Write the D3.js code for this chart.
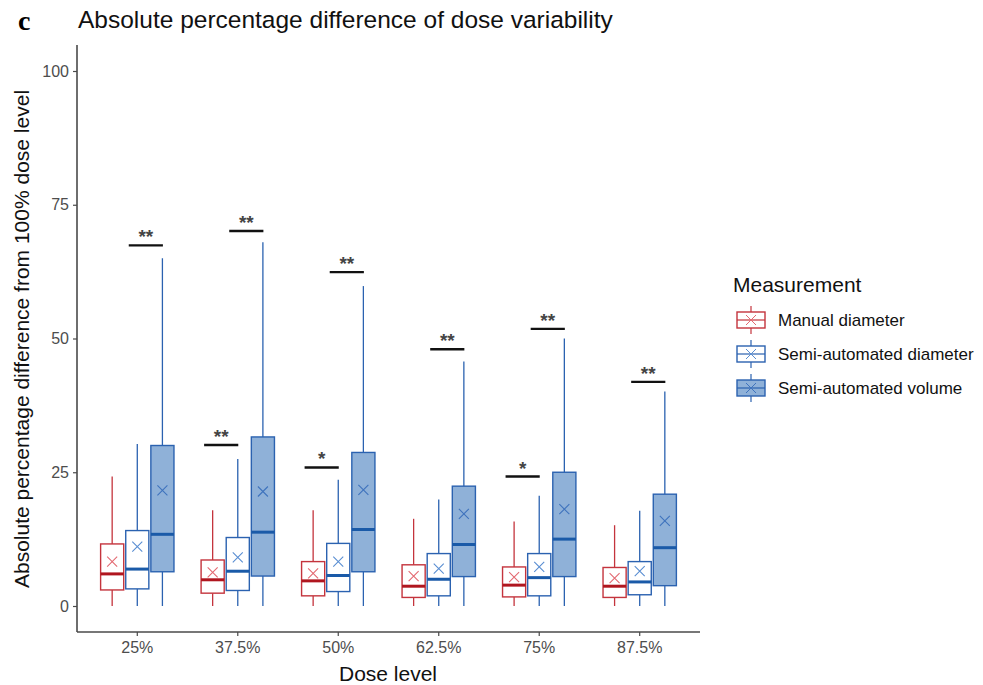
<!DOCTYPE html>
<html>
<head>
<meta charset="utf-8">
<script src="https://cdn.jsdelivr.net/npm/d3@7"></script>
<style>
  body { margin: 0; background: #fff; }
  text { font-family: "Liberation Sans", Arial, sans-serif; }
</style>
</head>
<body>
<svg id="chart" width="983" height="685"></svg>
<script>
// dose levels on the x axis
var doseLevels = ["25%", "37.5%", "50%", "62.5%", "75%", "87.5%"];
var measurements = ["Manual diameter", "Semi-automated diameter", "Semi-automated volume"];
var yTicks = [0, 25, 50, 75, 100];

// box stats per measurement, one entry per dose level: [min, q1, median, q3, max, mean]
var manualDiameter = [
  [0, 3.0, 6.0, 11.6, 24.2, 8.3],
  [0, 2.4, 4.9, 8.6, 17.9, 6.3],
  [0, 1.9, 4.7, 8.3, 17.9, 6.1],
  [0, 1.6, 3.7, 7.7, 16.3, 5.6],
  [0, 1.7, 3.9, 7.3, 15.8, 5.4],
  [0, 1.6, 3.7, 7.2, 15.1, 5.2]
];
var semiDiameter = [
  [0, 3.2, 6.9, 14.1, 30.3, 11.1],
  [0, 2.9, 6.5, 12.8, 27.5, 9.1],
  [0, 2.7, 5.7, 11.7, 23.6, 8.3],
  [0, 1.9, 5.0, 9.8, 19.9, 7.0],
  [0, 1.9, 5.3, 9.8, 20.6, 7.3],
  [0, 2.1, 4.5, 8.3, 17.8, 6.5]
];
var semiVolume = [
  [0, 6.4, 13.4, 30.0, 65.0, 21.6],
  [0, 5.6, 13.8, 31.6, 68.0, 21.4],
  [0, 6.4, 14.3, 28.7, 59.8, 21.7],
  [0, 5.5, 11.5, 22.4, 45.7, 17.2],
  [0, 5.5, 12.5, 25.0, 50.0, 18.1],
  [0, 3.8, 10.9, 20.9, 40.1, 15.9]
];

// significance brackets: dose level, pair of measurements (index of first), height, label
var sigDose  = ["25%", "37.5%", "37.5%", "50%", "50%", "62.5%", "75%", "75%", "87.5%"];
var sigPair  = [1, 0, 1, 0, 1, 1, 0, 1, 1];
var sigValue = [67.4, 30.1, 70.1, 25.9, 62.4, 48.0, 24.2, 51.8, 41.9];
var sigLabel = ["**", "**", "**", "*", "**", "**", "*", "**", "**"];

var svg = d3.select("#chart");

var y = d3.scaleLinear().domain([0, 100]).range([606, 71]);
var x = d3.scaleBand().domain(doseLevels).range([77, 700]).paddingOuter(0.1).paddingInner(0);

var stroke = ["#c4343d", "#2b62b0", "#2b62b0"];
var fill = ["#ffffff", "#ffffff", "#8fb1d8"];
var medianCol = ["#b0161f", "#1a5aa8", "#1a5aa8"];
var meanCol = ["#e36a72", "#5a8ed2", "#3f73bd"];
var allStats = [manualDiameter, semiDiameter, semiVolume];

var step = x.bandwidth();
var dodge = 0.25 * step;
var boxW = 0.23 * step;

// axes
var yAxis = d3.axisLeft(y).tickValues(yTicks).tickSize(4).tickPadding(4);
var gy = svg.append("g").attr("transform", "translate(77,0)").call(yAxis);
gy.select(".domain").remove();
gy.append("line").attr("x1", 0).attr("x2", 0).attr("y1", 45).attr("y2", 632)
  .attr("stroke", "#4a4a4a").attr("stroke-width", 1.6);

var xAxis = d3.axisBottom(x).tickSize(4).tickPadding(6);
var gx = svg.append("g").attr("transform", "translate(0,632)").call(xAxis);
gx.select(".domain").remove();
gx.append("line").attr("x1", 77).attr("x2", 700).attr("y1", 0).attr("y2", 0)
  .attr("stroke", "#4a4a4a").attr("stroke-width", 1.6);

svg.selectAll(".tick line").attr("stroke", "#4a4a4a").attr("stroke-width", 1.2);
svg.selectAll(".tick text").attr("fill", "#4d4d4d").style("font-size", "16px");

// boxes
allStats.forEach(function(stats, m) {
  var g = svg.append("g");
  stats.forEach(function(s, i) {
    var cx = x(doseLevels[i]) + step / 2 + (m - 1) * dodge;
    g.append("line").attr("x1", cx).attr("x2", cx).attr("y1", y(s[0])).attr("y2", y(s[1]))
      .attr("stroke", stroke[m]).attr("stroke-width", 1.3);
    g.append("line").attr("x1", cx).attr("x2", cx).attr("y1", y(s[3])).attr("y2", y(s[4]))
      .attr("stroke", stroke[m]).attr("stroke-width", 1.3);
    g.append("rect").attr("x", cx - boxW / 2).attr("width", boxW)
      .attr("y", y(s[3])).attr("height", y(s[1]) - y(s[3]))
      .attr("fill", fill[m]).attr("stroke", stroke[m]).attr("stroke-width", 1.4);
    g.append("line").attr("x1", cx - boxW / 2).attr("x2", cx + boxW / 2)
      .attr("y1", y(s[2])).attr("y2", y(s[2]))
      .attr("stroke", medianCol[m]).attr("stroke-width", 3);
    var my = y(s[5]), r = 5;
    g.append("path").attr("d", "M" + (cx - r) + "," + (my - r) + "L" + (cx + r) + "," + (my + r) +
        "M" + (cx - r) + "," + (my + r) + "L" + (cx + r) + "," + (my - r))
      .attr("stroke", meanCol[m]).attr("stroke-width", 1.1).attr("fill", "none");
  });
});

// significance bars
sigDose.forEach(function(d, i) {
  var mid = x(d) + step / 2 + (sigPair[i] - 0.5) * dodge - 0.04 * step;
  var half = 0.17 * step;
  var yy = y(sigValue[i]);
  svg.append("line").attr("x1", mid - half).attr("x2", mid + half).attr("y1", yy).attr("y2", yy)
    .attr("stroke", "#111").attr("stroke-width", 2.4);
  svg.append("text").attr("x", mid).attr("y", yy - 2).attr("text-anchor", "middle")
    .style("font-size", "19px").style("font-weight", "bold").attr("fill", "#444").text(sigLabel[i]);
});

// titles
svg.append("text").attr("x", 18).attr("y", 30).text("c")
  .style("font-family", "'Liberation Serif', serif").style("font-weight", "bold").style("font-size", "28px");
svg.append("text").attr("x", 78).attr("y", 28).text("Absolute percentage difference of dose variability")
  .style("font-size", "24.5px").attr("fill", "#111");
svg.append("text").attr("x", 388).attr("y", 681).attr("text-anchor", "middle").text("Dose level")
  .style("font-size", "21px").attr("fill", "#111");
svg.append("text").attr("transform", "translate(29,339) rotate(-90)").attr("text-anchor", "middle")
  .text("Absolute percentage difference from 100% dose level")
  .style("font-size", "21px").attr("fill", "#111");

// legend
var legend = svg.append("g").attr("transform", "translate(733,0)");
legend.append("text").attr("x", 0).attr("y", 292).text("Measurement").style("font-size", "21px").attr("fill", "#111");
measurements.forEach(function(name, m) {
  var cy = 320 + m * 34;
  var lx = 18;
  legend.append("line").attr("x1", lx).attr("x2", lx).attr("y1", cy - 14).attr("y2", cy + 14)
    .attr("stroke", stroke[m]).attr("stroke-width", 1.2);
  legend.append("rect").attr("x", 4).attr("y", cy - 8).attr("width", 28).attr("height", 16)
    .attr("fill", fill[m]).attr("stroke", stroke[m]).attr("stroke-width", 1.4);
  legend.append("line").attr("x1", 4).attr("x2", 32).attr("y1", cy).attr("y2", cy)
    .attr("stroke", stroke[m]).attr("stroke-width", 1.2);
  legend.append("path").attr("d", "M" + (lx - 5) + "," + (cy - 5) + "L" + (lx + 5) + "," + (cy + 5) +
      "M" + (lx - 5) + "," + (cy + 5) + "L" + (lx + 5) + "," + (cy - 5))
    .attr("stroke", meanCol[m]).attr("stroke-width", 1).attr("fill", "none");
  legend.append("text").attr("x", 45).attr("y", cy + 6).text(name).style("font-size", "17px").attr("fill", "#111");
});
</script>
</body>
</html>
